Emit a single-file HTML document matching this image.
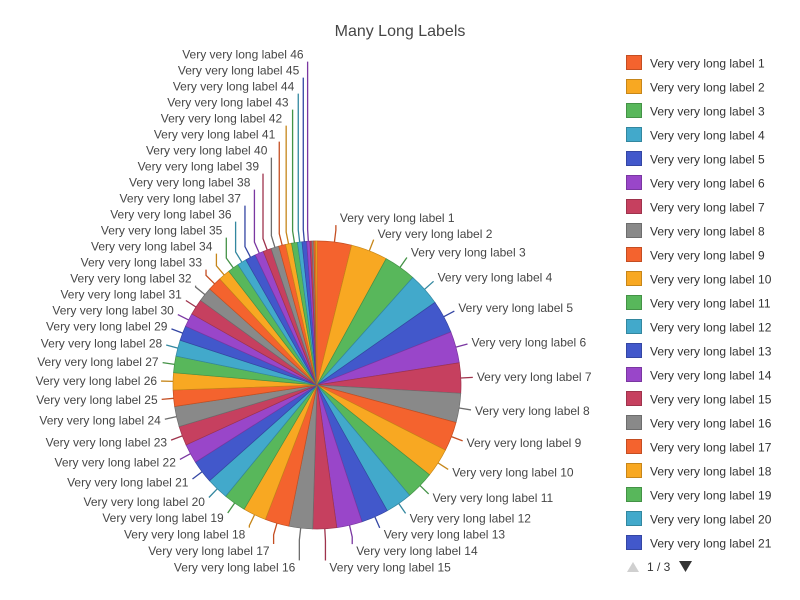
<!DOCTYPE html>
<html><head><meta charset="utf-8"><style>
html,body{margin:0;padding:0;background:#fff;}
svg{display:block;font-family:"Liberation Sans",sans-serif;}
</style></head><body>
<svg id="chart" width="800" height="600" viewBox="0 0 800 600">
<text x="400" y="36" text-anchor="middle" font-size="16" fill="#464646">Many Long Labels</text>
<g id="slices"></g><g id="labels"></g><g id="legend"></g>
</svg>
<script>
const categories = Array.from({length:50},(_, i)=>'Very very long label '+(i+1));
const values = [13.9,14.8,13.0,13.3,13.4,12.7,12.2,11.8,11.8,11.7,11.4,10.8,11.0,10.3,9.6,9.6,9.7,9.4,9.0,8.9,9.3,7.8,7.8,8.2,6.6,6.9,6.7,6.5,6.0,5.5,6.4,5.8,5.7,4.7,4.5,3.7,4.2,3.5,3.3,3.2,2.8,2.4,2.4,1.8,1.9,1.3,0.8,0.7,0.7,0.6];
const labelCount = 46;
const legendPageSize = 21;

const NS='http://www.w3.org/2000/svg';
const palette=['#f4632e','#f8a822','#58b75b','#42a9cb','#4258cb','#9946c9','#c6405f','#898989'];
const stroke=['#c44e22','#c6861a','#449246','#33879f','#3446a3','#7a37a1','#9e334c','#6d6d6d'];
const cx=317, cy=385, R=144;
const total=values.reduce((a,b)=>a+b,0);
function ang(v){return v/total*Math.PI*2;}
function pt(a,r){return [cx+r*Math.sin(a), cy-r*Math.cos(a)];}
function mk(tag,attrs,parent){const e=document.createElementNS(NS,tag);for(const k in attrs)e.setAttribute(k,attrs[k]);parent.appendChild(e);return e;}
const gS=document.getElementById('slices'), gL=document.getElementById('labels'), gG=document.getElementById('legend');
let acc=0; const mids=[];
values.forEach((v,i)=>{
  const a0=ang(acc), a1=ang(acc+v); acc+=v;
  const p0=pt(a0,R), p1=pt(a1,R);
  const large=(a1-a0)>Math.PI?1:0;
  const p=mk('path',{d:`M${cx},${cy}L${p0[0]},${p0[1]}A${R},${R} 0 ${large} 1 ${p1[0]},${p1[1]}Z`,fill:palette[i%8],stroke:stroke[i%8],'stroke-width':0.7},gS);
  
  
  mids.push((a0+a1)/2);
});
const L1=12, LN=18, gapDown=16.4, gapUp=16;
const items=[];
for(let i=0;i<labelCount;i++){
  const a=mids[i]; const E=pt(a,R), P=pt(a,R+L1), N=pt(a,R+LN);
  items.push({i,a,E,P,right:a<Math.PI,y:N[1]});
}
function resolve(side){
  const arr=items.filter(o=>o.right===side).sort((a,b)=>a.y-b.y);
  let piv=0,best=1e9; arr.forEach((o,k)=>{const d=Math.abs(o.y-cy);if(d<best){best=d;piv=k;}});
  for(let k=piv+1;k<arr.length;k++) if(arr[k].y<arr[k-1].y+gapDown) arr[k].y=arr[k-1].y+gapDown;
  for(let k=piv-1;k>=0;k--) if(arr[k].y>arr[k+1].y-gapUp) arr[k].y=arr[k+1].y-gapUp;
}
resolve(true); resolve(false);
items.forEach(o=>{
  const c=stroke[o.i%8];
  const endY=o.y+(o.y<o.P[1]? 7 : (o.y>o.P[1]? -7:0));
  const ln=mk('polyline',{points:`${o.E[0]},${o.E[1]} ${o.P[0]},${o.P[1]} ${o.P[0]},${Math.abs(o.y-o.P[1])>7?endY:o.P[1]}`,fill:'none',stroke:c,'stroke-width':1.3},gL);
  
  
  const tx=o.right?o.P[0]+4:o.P[0]-4;
  const t=mk('text',{x:tx,y:o.y+4,'font-size':12,fill:'#464646','text-anchor':o.right?'start':'end'},gL);
  t.textContent=categories[o.i];
  
  
});
for(let k=0;k<legendPageSize;k++){
  const y=63+k*24;
  const g=mk('g',{},gG);
  
  
  mk('rect',{x:626.5,y:y-7.5,width:15,height:14,fill:palette[k%8],stroke:stroke[k%8],'stroke-width':1},g);
  const t=mk('text',{x:650,y:y+4.5,'font-size':12,fill:'#333'},g);
  t.textContent=categories[k];
}
const up=mk('path',{d:'M627,572 L633,562 L639,572 Z',fill:'#d0d0d0'},gG);


const pg=mk('text',{x:647,y:571,'font-size':12,fill:'#333'},gG);
pg.textContent='1 / 3';


const dn=mk('path',{d:'M679,561 L692,561 L685.5,572 Z',fill:'#333'},gG);


</script>
</body></html>
